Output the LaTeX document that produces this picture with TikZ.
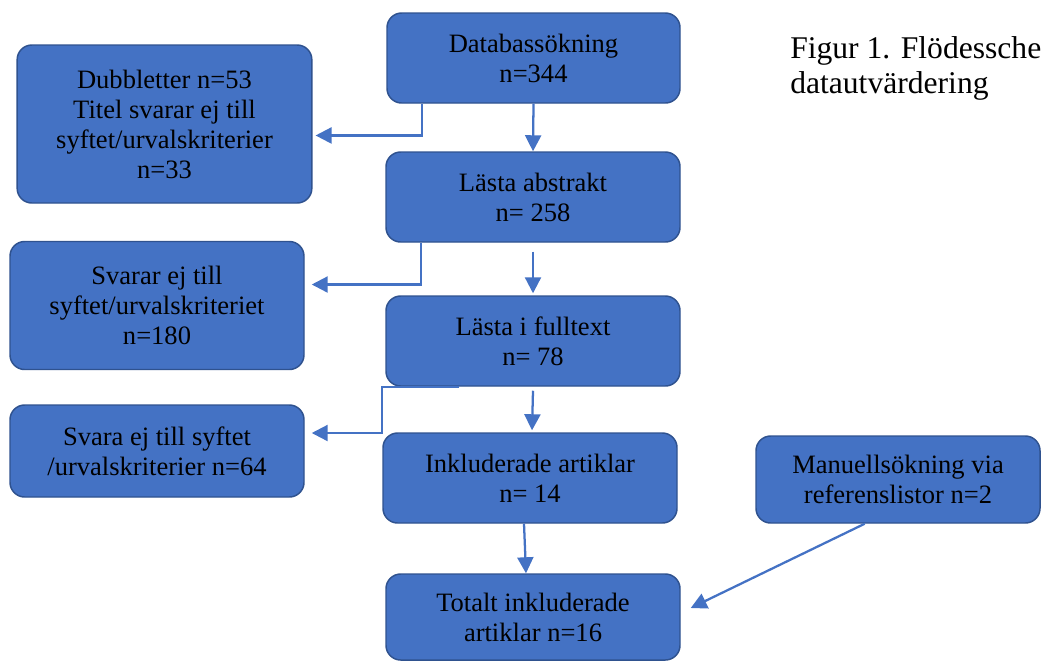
\documentclass[tikz,border=0pt]{standalone}
\usepackage{fontspec}
\setmainfont{Liberation Serif}
\usetikzlibrary{arrows.meta}
\definecolor{boxfill}{HTML}{4472C4}
\definecolor{boxline}{HTML}{2F528F}
\begin{document}
\begin{tikzpicture}[x=0.75pt,y=-0.75pt,
  flowbox/.style={rectangle, rounded corners=11pt, fill=boxfill, draw=boxline,
    line width=1.1pt, align=center, text=black, inner sep=0pt,
    font=\fontsize{19.9}{22.5}\selectfont},
  arr/.style={draw=boxfill, line width=1.7pt,
    -{Triangle[length=12pt,width=12pt]}}]
\useasboundingbox (0,0) rectangle (1041,662);
\node [flowbox, minimum width=219.75pt, minimum height=67.5pt] (db) at (533.5,58) {Databassökning\\n=344};
\node [flowbox, minimum width=221pt, minimum height=118.5pt] (dub) at (164.5,124) {Dubbletter n=53\\Titel svarar ej till\\syftet/urvalskriterier\\n=33};
\node [flowbox, minimum width=220.5pt, minimum height=67.5pt] (abs) at (533,197) {Lästa abstrakt\\n= 258};
\node [flowbox, minimum width=220.5pt, minimum height=96pt] (sv1) at (157,305.5) {Svarar ej till\\syftet/urvalskriteriet\\n=180};
\node [flowbox, minimum width=220.5pt, minimum height=67.5pt] (full) at (533,341) {Lästa i fulltext\\n= 78};
\node [flowbox, minimum width=220.5pt, minimum height=69pt] (sv2) at (157,451) {Svara ej till syftet\\/urvalskriterier n=64};
\node [flowbox, minimum width=220.5pt, minimum height=67.5pt] (ink) at (530,478) {Inkluderade artiklar\\n= 14};
\node [flowbox, minimum width=213pt, minimum height=65.25pt] (man) at (898,479.5) {Manuellsökning via\\referenslistor n=2};
\node [flowbox, minimum width=220.5pt, minimum height=64.5pt] (tot) at (533,617) {Totalt inkluderade\\artiklar n=16};
\node [anchor=north west, inner sep=0pt, align=left,
  font=\fontsize{23.7}{26.25}\selectfont] (cap) at (790,36) {Figur 1. Flödessche\\datautvärdering};
% connectors
\draw [arr] ([xshift=27pt]db.south west) |- ([xshift=2.25pt,yshift=-8.6pt]dub.east);
\draw [arr] (db.south) -- (abs.north);
\draw [arr] ([xshift=27pt]abs.south west) |- ([xshift=5.25pt,yshift=15.75pt]sv1.east);
\draw [arr] ([yshift=-6.75pt]abs.south) -- ([yshift=1.5pt]full.north);
\draw [arr] ([xshift=55.5pt]full.south west) -- ([xshift=-2.25pt]full.south west) |- ([xshift=5.25pt,yshift=13.5pt]sv2.east);
\draw [arr] ([yshift=-3pt]full.south) -- ([xshift=1.5pt,yshift=1.5pt]ink.north);
\draw [arr] ([xshift=-4.5pt]ink.south) -- ([xshift=-5.25pt]tot.north);
\draw [arr] ([xshift=-25pt]man.south) -- ([xshift=7.5pt,yshift=6.75pt]tot.east);
\end{tikzpicture}
\end{document}
